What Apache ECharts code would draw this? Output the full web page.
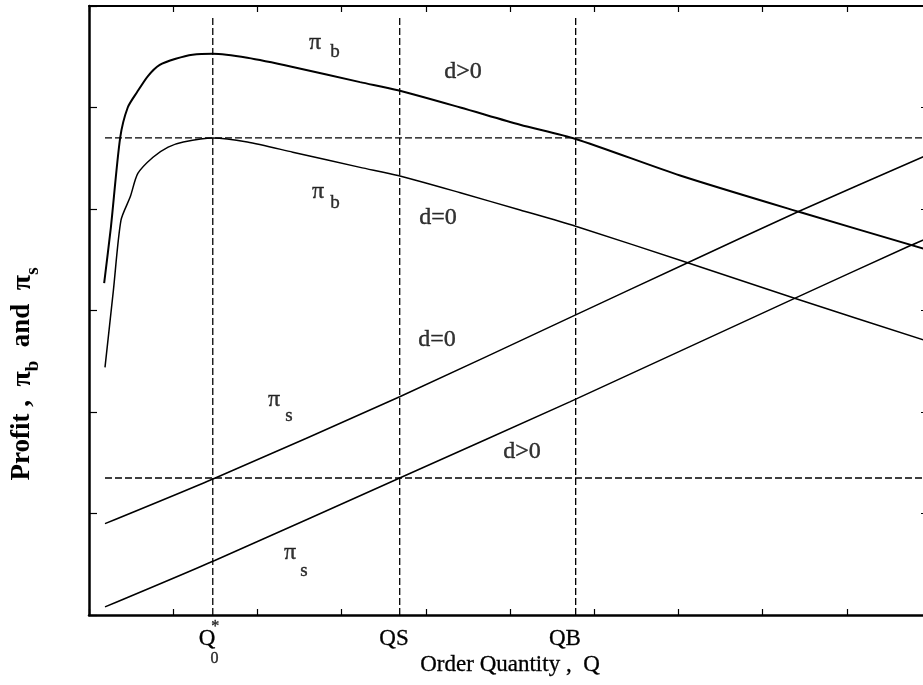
<!DOCTYPE html>
<html>
<head>
<meta charset="utf-8">
<script src="https://cdn.jsdelivr.net/npm/echarts@6/dist/echarts.min.js"></script>
<style>
html,body{margin:0;padding:0;background:#fff;}
#chart{width:923px;height:685px;}
</style>
</head>
<body>
<div id="chart"></div>
<script>
// ---- data ----
// buyer profit, d>0 : [Q, profit]
const buyerProfitPositive = [[0.18,3.27],[0.26,3.82],[0.37,4.70],[0.46,5.00],[0.57,5.15],[0.70,5.31],[0.84,5.42],[1.03,5.48],[1.23,5.52],[1.47,5.53],[1.88,5.49],[2.42,5.40],[3.22,5.25],[3.67,5.17],[4.41,5.00],[5.12,4.83],[5.78,4.69],[7.02,4.33],[8.44,3.97],[9.95,3.60]];
// buyer profit, d=0
const buyerProfitZero = [[0.19,2.44],[0.29,3.20],[0.38,3.89],[0.49,4.12],[0.58,4.35],[0.76,4.51],[0.94,4.61],[1.12,4.66],[1.47,4.70],[1.88,4.66],[2.42,4.56],[3.22,4.41],[3.67,4.33],[4.41,4.16],[5.12,3.99],[5.78,3.83],[7.11,3.47],[8.38,3.12],[9.95,2.70]];
// supplier profit, d=0
const supplierProfitZero = [[0.19,0.90],[1.50,1.35],[3.69,2.15],[5.71,2.93],[7.11,3.47],[8.44,3.98],[9.95,4.53]];
// supplier profit, d>0
const supplierProfitPositive = [[0.19,0.08],[1.50,0.54],[3.69,1.35],[5.71,2.10],[8.38,3.12],[9.73,3.63],[9.95,3.71]];

// reference quantities (vertical dashed lines) and levels (horizontal dashed lines)
const quantityMarks = [1.47, 3.69, 5.78];
const quantityTop = 5.89;
const profitLevels = [4.70, 1.35];
const levelStart = 0.19;
const levelEnd = 10;

// x tick labels
const xLabelValues = [1.401, 3.622, 5.653];
const xLabelTexts = ['Q', 'QS', 'QB'];
// superscript / subscript marks of Q*0 (below the axis)
const xLabelMarks = [{value:[1.50,-0.115],name:'*'},{value:[1.49,-0.43],name:'0'}];

// curve annotations
const piLabels = [[2.684,5.636],[2.720,4.167],[2.197,2.118],[2.387,0.611]];
const subLabels = [{value:[2.922,5.547],name:'b'},{value:[2.922,4.059],name:'b'},{value:[2.375,1.956],name:'s'},{value:[2.553,0.429],name:'s'}];
const caseLabels = [{value:[4.442,5.350],name:'d>0'},{value:[4.145,3.911],name:'d=0'},{value:[4.133,2.709],name:'d=0'},{value:[5.143,1.606],name:'d>0'}];

const xTitle = 'Order Quantity ,  Q';
const yTitleParts = ['Profit ,  ', 'π', 'b', '  and  ', 'π', 's'];

// ---- chart ----
const SERIF = 'Liberation Serif';
const chart = echarts.init(document.getElementById('chart'), null, {renderer:'canvas'});

const curveSeries = (data, width) => ({
  type:'line', data:data, symbol:'none', showSymbol:false, smooth:0.25,
  lineStyle:{color:'#000', width:width}, silent:true, animation:false, z:3
});
const dashSeries = (data) => ({
  type:'line', data:data, symbol:'none', showSymbol:false,
  lineStyle:{color:'#000', width:1.3, type:[7,3]}, silent:true, animation:false, z:2
});
const labelSeries = (data, size, fmt) => ({
  type:'scatter', data:data, symbolSize:1, itemStyle:{color:'rgba(0,0,0,0)'}, silent:true, animation:false, z:5, clip:false,
  label:{show:true, position:'inside', formatter:fmt, fontFamily:SERIF, fontSize:size, color:'#000',
         textBorderColor:'#000', textBorderWidth:0.4}
});

const series = [
  curveSeries(buyerProfitPositive, 2),
  curveSeries(buyerProfitZero, 1.5),
  curveSeries(supplierProfitZero, 1.5),
  curveSeries(supplierProfitPositive, 1.5)
];
quantityMarks.forEach(q => series.push(dashSeries([[q,0],[q,quantityTop]])));
profitLevels.forEach(l => series.push(dashSeries([[levelStart,l],[levelEnd,l]])));
series.push(labelSeries(piLabels, 24, 'π'));
series.push(labelSeries(subLabels, 19, '{b}'));
series.push(labelSeries(caseLabels, 24, '{b}'));
series.push(labelSeries(xLabelMarks, 16, '{b}'));

const axisCommon = {
  type:'value', min:0, splitLine:{show:false},
  axisLine:{show:true, onZero:false, lineStyle:{color:'#000', width:2}}
};

chart.setOption({
  backgroundColor:'#fff',
  animation:false,
  grid:{left:89, top:6, width:842, height:609, containLabel:false, outerBoundsMode:'none'},
  xAxis:[
    Object.assign({}, axisCommon, {
      max:10, interval:1, position:'bottom',
      axisLine:{show:true, onZero:false, lineStyle:{color:'#000', width:2.5}},
      axisTick:{show:true, inside:true, length:6, lineStyle:{color:'#000', width:1.2}},
      axisLabel:{
        show:true, customValues:xLabelValues, margin:12, color:'#000', fontFamily:SERIF, fontSize:23,
        textBorderColor:'#000', textBorderWidth:0.3,
        formatter:function(v){
          let i = 0, best = 1e9;
          xLabelValues.forEach((x,k)=>{ if(Math.abs(x-v)<best){best=Math.abs(x-v); i=k;} });
          return xLabelTexts[i];
        }
      },
      name:xTitle, nameLocation:'middle', nameGap:38, nameMoveOverlap:false,
      nameTextStyle:{fontFamily:SERIF, fontSize:23, color:'#000', textBorderColor:'#000', textBorderWidth:0.3}
    }),
    Object.assign({}, axisCommon, {
      max:10, interval:1, position:'top',
      axisTick:{show:true, inside:true, length:6, lineStyle:{color:'#000', width:1.2}},
      axisLabel:{show:false}
    })
  ],
  yAxis:[
    Object.assign({}, axisCommon, {
      max:6, interval:1, position:'left',
      axisLine:{show:true, onZero:false, lineStyle:{color:'#000', width:2.5}},
      axisTick:{show:true, inside:true, length:8, lineStyle:{color:'#000', width:1.2}},
      axisLabel:{show:false}
    }),
    Object.assign({}, axisCommon, {
      max:6, interval:1, position:'right',
      axisTick:{show:true, inside:true, length:10, lineStyle:{color:'#000', width:1.2}},
      axisLabel:{show:false}
    })
  ],
  graphic:[{
    type:'text', x:9, y:374, rotation:Math.PI/2, silent:true,
    style:{
      text:'{m|' + yTitleParts[0] + '}{g|' + yTitleParts[1] + '}{u|' + yTitleParts[2] + '}{m|' + yTitleParts[3] + '}{g|' + yTitleParts[4] + '}{u|' + yTitleParts[5] + '}',
      align:'center', verticalAlign:'top', textAlign:'center', textVerticalAlign:'top',
      fill:'#000', fontFamily:SERIF, fontSize:27, fontWeight:'bold',
      rich:{
        m:{fontFamily:SERIF, fontSize:27, fontWeight:'bold', lineHeight:26, verticalAlign:'top', fill:'#000', color:'#000'},
        g:{fontFamily:SERIF, fontSize:28, fontWeight:'bold', lineHeight:26, verticalAlign:'top', fill:'#000', color:'#000'},
        u:{fontFamily:SERIF, fontSize:19, fontWeight:'bold', lineHeight:48, fill:'#000', color:'#000'}
      }
    }
  }],
  series:series
});
</script>
</body>
</html>
